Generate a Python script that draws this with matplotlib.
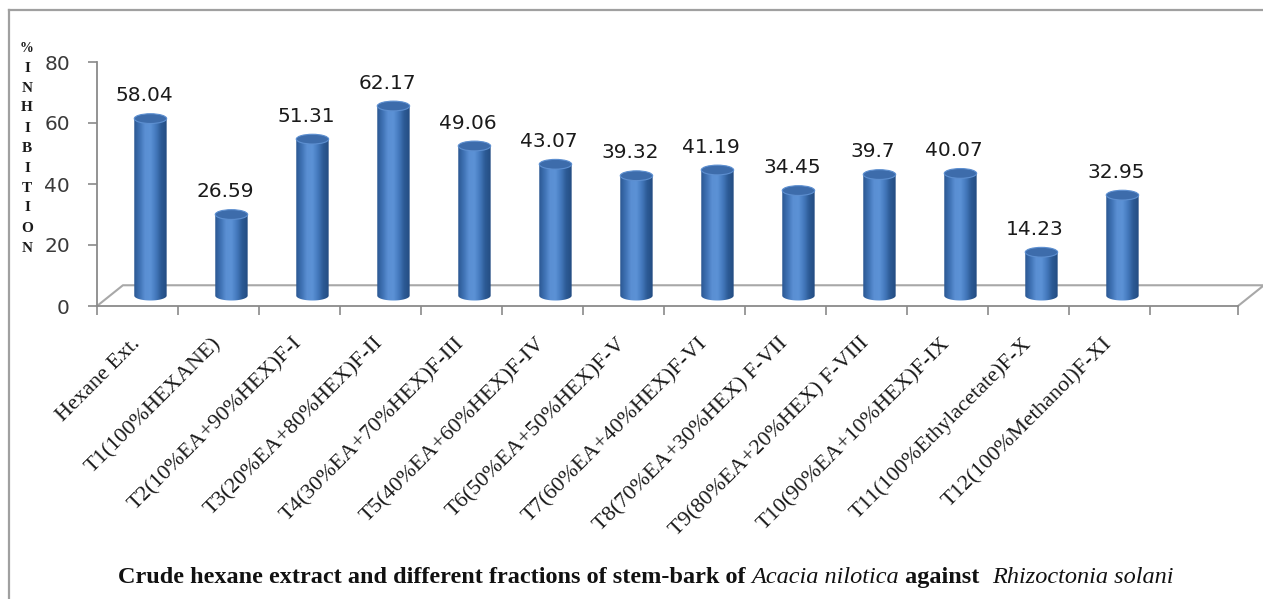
import matplotlib.pyplot as plt
import numpy as np
from matplotlib.colors import LinearSegmentedColormap
from matplotlib.patches import Ellipse, PathPatch
from matplotlib.path import Path
from matplotlib.lines import Line2D

categories = ["Hexane Ext.", "T1(100%HEXANE)", "T2(10%EA+90%HEX)F-I",
              "T3(20%EA+80%HEX)F-II", "T4(30%EA+70%HEX)F-III",
              "T5(40%EA+60%HEX)F-IV", "T6(50%EA+50%HEX)F-V",
              "T7(60%EA+40%HEX)F-VI", "T8(70%EA+30%HEX) F-VII",
              "T9(80%EA+20%HEX) F-VIII", "T10(90%EA+10%HEX)F-IX",
              "T11(100%Ethylacetate)F-X", "T12(100%Methanol)F-XI"]
inhibition = [58.04, 26.59, 51.31, 62.17, 49.06, 43.07, 39.32,
              41.19, 34.45, 39.7, 40.07, 14.23, 32.95]
yticks = [0, 20, 40, 60, 80]
ylabel_chars = list("%INHIBITION")

W, H = 1263, 599
fig = plt.figure(figsize=(W / 100, H / 100), dpi=100)

# outer chart frame
fig.add_artist(Line2D([9 / W, 9 / W], [0, 1 - 10 / H], color="#a0a0a0", lw=1.6))
fig.add_artist(Line2D([9 / W, 1], [1 - 10 / H, 1 - 10 / H], color="#a0a0a0", lw=1.6))

ax = fig.add_axes([97 / W, 1 - 306 / H, (1238 - 97) / W, (306 - 62) / H])
xmax = (1238 - 97) / 81

axis_col = "#8a8a8a"
for s in ["top", "right"]:
    ax.spines[s].set_visible(False)
for s in ["left", "bottom"]:
    ax.spines[s].set_color(axis_col)
    ax.spines[s].set_linewidth(1.3)

# 3d floor (back edge + sides)
dx, dy = 0.32, 6.8
ax.plot([0, dx, xmax + dx, xmax], [0, dy, dy, 0], color="#a8a8a8", lw=1.5,
        clip_on=False, zorder=1)

ax.set_yticks(yticks)
ax.tick_params(axis="y", length=6.5, width=1.2, color=axis_col, pad=13,
               labelsize=14.5, labelcolor="#3a3a3a")

n = len(categories)
ax.set_xticks(list(range(n + 1)) + [xmax])
ax.set_xticklabels([""] * (n + 2))
ax.set_xticks(np.arange(n) + 0.5, minor=True)
ax.set_xticklabels(categories, minor=True, fontfamily="Liberation Serif",
                   fontsize=16, color="#1a1a1a")
ax.tick_params(axis="x", which="major", length=6.5, width=1.2, color=axis_col)
ax.tick_params(axis="x", which="minor", length=0, pad=25)
plt.setp(ax.get_xticklabels(minor=True), rotation=45, ha="right",
         va="center", rotation_mode="anchor")

# cylinders
cmap = LinearSegmentedColormap.from_list(
    "cyl", ["#2b5893", "#3f72b4", "#5a8fd3", "#5c92d6", "#4479bd", "#2c5a95", "#244d82"])
grad = np.linspace(0, 1, 64).reshape(1, -1)
base = 3.4
bw = 0.40
eh = 3.2
t = np.linspace(np.pi, 2 * np.pi, 40)
for i, v in enumerate(inhibition):
    xc = i + 0.66
    x0, x1 = xc - bw / 2, xc + bw / 2
    top = base + v
    arc = np.column_stack([xc + bw / 2 * np.cos(t), base + eh / 2 * np.sin(t)])
    verts = np.vstack([[x0, top], arc, [x1, top], [x0, top]])
    clip = PathPatch(Path(verts, closed=True), transform=ax.transData,
                     facecolor="none", edgecolor="none")
    ax.add_patch(clip)
    im = ax.imshow(grad, cmap=cmap, extent=[x0, x1, base - eh / 2, top],
                   aspect="auto", zorder=3, interpolation="bilinear")
    im.set_clip_path(clip)
    ax.add_patch(Ellipse((xc, top), bw, eh, facecolor="#3d6cab",
                         edgecolor="#5d8fd0", lw=0.8, zorder=4))
    ax.text(xc - 0.08, top + 7.5, f"{v:g}", ha="center", va="center",
            fontsize=14.5, color="#1a1a1a", zorder=5)

ax.set_xlim(0, xmax)
ax.set_ylim(0, 80)

# vertical axis title, one letter per line
for k, ch in enumerate(ylabel_chars):
    fig.text(27 / W, 1 - (48 + 20 * k) / H, ch, ha="center", va="center",
             fontsize=11 if ch != "%" else 10, fontweight="bold",
             fontfamily="Liberation Serif", color="#1a1a1a")

# caption with italic species names, pieces chained left to right
parts = [("Crude hexane extract and different fractions of stem-bark of ", "normal", "bold"),
         ("Acacia nilotica", "italic", "normal"),
         (" against  ", "normal", "bold"),
         ("Rhizoctonia solani", "italic", "normal")]
cap_size = 17.5
prev = fig.text(118 / W, 1 - 583 / H, parts[0][0], fontsize=cap_size,
                fontfamily="Liberation Serif", fontstyle=parts[0][1],
                fontweight=parts[0][2], va="baseline", color="#111111")
for s, st, wt in parts[1:]:
    prev = ax.annotate(s, xy=(1, 0), xycoords=prev, ha="left", va="bottom",
                       fontsize=cap_size, fontfamily="Liberation Serif",
                       fontstyle=st, fontweight=wt, color="#111111",
                       annotation_clip=False)

fig.savefig("out.png", dpi=100)
